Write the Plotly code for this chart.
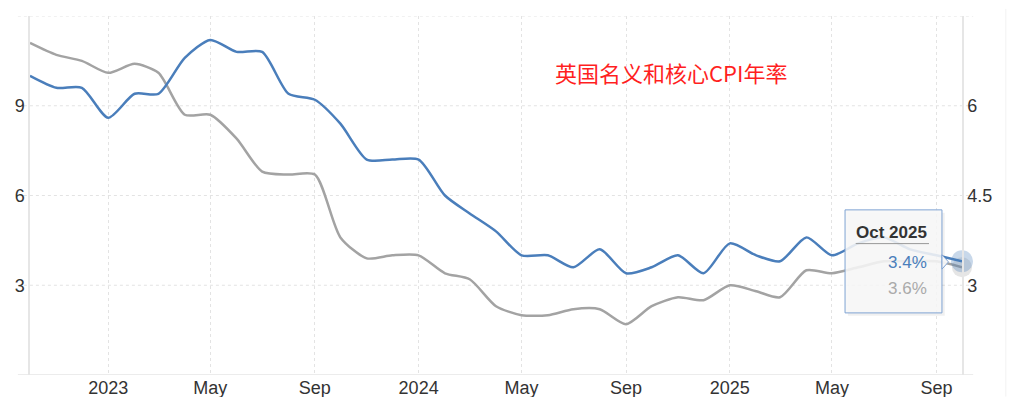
import plotly.graph_objects as go

# monthly readings, Oct 2022 .. Oct 2025
months = [
    "2022-10", "2022-11", "2022-12",
    "2023-01", "2023-02", "2023-03", "2023-04", "2023-05", "2023-06",
    "2023-07", "2023-08", "2023-09", "2023-10", "2023-11", "2023-12",
    "2024-01", "2024-02", "2024-03", "2024-04", "2024-05", "2024-06",
    "2024-07", "2024-08", "2024-09", "2024-10", "2024-11", "2024-12",
    "2025-01", "2025-02", "2025-03", "2025-04", "2025-05", "2025-06",
    "2025-07", "2025-08", "2025-09", "2025-10",
]
headline_cpi = [
    11.1, 10.7, 10.5,
    10.1, 10.4, 10.1, 8.7, 8.7, 7.9, 6.8, 6.7, 6.7, 4.6, 3.9, 4.0,
    4.0, 3.4, 3.2, 2.3, 2.0, 2.0, 2.2, 2.2, 1.7, 2.3, 2.6, 2.5,
    3.0, 2.8, 2.6, 3.5, 3.4, 3.6, 3.8, 3.8, 3.8, 3.6,
]
core_cpi = [
    6.5, 6.3, 6.3,
    5.8, 6.2, 6.2, 6.8, 7.1, 6.9, 6.9, 6.2, 6.1, 5.7, 5.1, 5.1,
    5.1, 4.5, 4.2, 3.9, 3.5, 3.5, 3.3, 3.6, 3.2, 3.3, 3.5, 3.2,
    3.7, 3.5, 3.4, 3.8, 3.5, 3.7, 3.8, 3.6, 3.5, 3.4,
]
x_tick_dates = ["2023-01-01", "2023-05-01", "2023-09-01", "2024-01-01", "2024-05-01",
                "2024-09-01", "2025-01-01", "2025-05-01", "2025-09-01"]
x_tick_labels = ["2023", "May", "Sep", "2024", "May", "Sep", "2025", "May", "Sep"]
left_ticks = [0, 3, 6, 9, 12]
left_labels = ["", "3", "6", "9", ""]
right_ticks = [1.5, 3, 4.5, 6, 7.5]
right_labels = ["", "3", "4.5", "6", ""]

title_text = "英国名义和核心CPI年率"
tip_label = "Oct 2025"

BLUE = "#4a7ebb"
GRAY = "#a3a3a3"
GRID = "#e3e3e3"
AXIS = "#e6e6e6"

dates = [m + "-01" for m in months]

fig = go.Figure()
fig.add_trace(go.Scatter(
    x=dates, y=headline_cpi, mode="lines", yaxis="y",
    line=dict(color=GRAY, width=2.5, shape="spline", smoothing=0.7),
))
fig.add_trace(go.Scatter(
    x=dates, y=core_cpi, mode="lines", yaxis="y2",
    line=dict(color=BLUE, width=2.5, shape="spline", smoothing=0.7),
))
# hover halos at the last point
fig.add_trace(go.Scatter(
    x=dates[-1:], y=headline_cpi[-1:], mode="markers", yaxis="y", cliponaxis=False,
    marker=dict(size=20, color="rgba(150,150,150,0.25)"),
))
fig.add_trace(go.Scatter(
    x=dates[-1:], y=core_cpi[-1:], mode="markers", yaxis="y2", cliponaxis=False,
    marker=dict(size=22, color="rgba(74,126,187,0.3)"),
))

shapes = []
# horizontal dotted gridlines, wider than the plot like the original
for v in left_ticks[1:]:
    shapes.append(dict(type="line", xref="paper", yref="y", x0=-0.013, x1=1.012, y0=v, y1=v,
                       line=dict(color=GRID, width=1, dash="dot"), layer="below"))
# bottom axis line
shapes.append(dict(type="line", xref="paper", yref="y", x0=-0.013, x1=1.012, y0=0, y1=0,
                   line=dict(color=AXIS, width=1.5), layer="below"))
# faint container edge on the right
shapes.append(dict(type="line", xref="paper", yref="paper", x0=1.047, x1=1.047, y0=-0.06, y1=1.02,
                   line=dict(color="#f2f2f2", width=1), layer="below"))

# tooltip box
tx0, tx1, ty0, ty1 = 0.8745, 0.9785, 0.173, 0.46
shapes.append(dict(type="rect", xref="paper", yref="paper",
                   x0=tx0 + 0.003, x1=tx1 + 0.003, y0=ty0 - 0.008, y1=ty1 - 0.008,
                   fillcolor="rgba(0,0,0,0.06)", line=dict(width=0), layer="above"))
shapes.append(dict(type="rect", xref="paper", yref="paper", x0=tx0, x1=tx1, y0=ty0, y1=ty1,
                   fillcolor="rgba(247,247,247,0.88)", line=dict(color="#7fa3d3", width=1),
                   layer="above"))
shapes.append(dict(type="path", xref="paper", yref="paper",
                   path=f"M {tx1} 0.335 L {tx1 + 0.007} 0.315 L {tx1} 0.295 Z",
                   fillcolor="rgba(247,247,247,0.95)", line=dict(color="#7fa3d3", width=1),
                   layer="above"))
shapes.append(dict(type="line", xref="paper", yref="paper", x0=0.886, x1=0.9646, y0=0.366, y1=0.366,
                   line=dict(color="#999999", width=1), layer="above"))

annotations = [
    dict(text=title_text, xref="paper", yref="paper", x=0.688, y=0.845, showarrow=False,
         xanchor="center", yanchor="middle",
         font=dict(family="Noto Sans CJK SC", size=22, color="#ff1f1f")),
    dict(text=f"<b>{tip_label}</b>", xref="paper", yref="paper", x=0.9646, y=0.398,
         xanchor="right", yanchor="middle", showarrow=False,
         font=dict(family="Liberation Sans", size=17, color="#333333")),
    dict(text=f"{core_cpi[-1]}%", xref="paper", yref="paper", x=0.9646, y=0.312,
         xanchor="right", yanchor="middle", showarrow=False,
         font=dict(family="Liberation Sans", size=17, color=BLUE)),
    dict(text=f"{headline_cpi[-1]}%", xref="paper", yref="paper", x=0.9646, y=0.24,
         xanchor="right", yanchor="middle", showarrow=False,
         font=dict(family="Liberation Sans", size=17, color="#aaaaaa")),
]

# page body adds 8px around the figure, so plot area sits at x 30..962, y 16..375
fig.update_layout(
    width=1008, height=389,
    margin=dict(l=22, r=54, t=8, b=22),
    paper_bgcolor="white", plot_bgcolor="white",
    showlegend=False,
    hovermode=False,
    font=dict(family="Liberation Sans", size=18, color="#333333"),
    xaxis=dict(
        type="date", range=["2022-10-01", "2025-10-01"],
        tickvals=x_tick_dates, ticktext=x_tick_labels,
        showgrid=True, gridcolor=GRID, griddash="dot", gridwidth=1,
        showline=False, zeroline=False, ticks="", automargin=False,
        tickfont=dict(size=18, color="#333333"),
    ),
    yaxis=dict(
        range=[0, 12], tickvals=left_ticks, ticktext=left_labels,
        showgrid=False, zeroline=False, ticks="", automargin=False,
        showline=True, linecolor=AXIS, linewidth=1.5,
        tickfont=dict(size=18, color="#333333"),
    ),
    yaxis2=dict(
        range=[1.5, 7.5], tickvals=right_ticks, ticktext=right_labels,
        overlaying="y", side="right",
        showgrid=False, zeroline=False, ticks="", automargin=False,
        showline=True, linecolor=AXIS, linewidth=1.5,
        tickfont=dict(size=18, color="#333333"),
    ),
    shapes=shapes,
    annotations=annotations,
)

fig.write_html("out.html")
